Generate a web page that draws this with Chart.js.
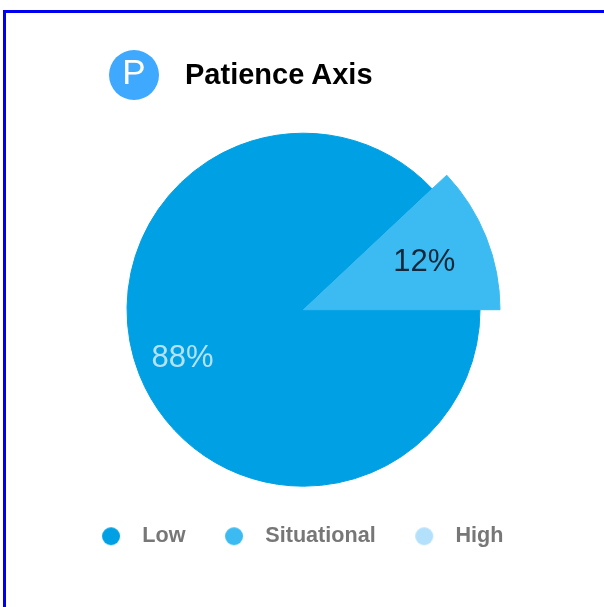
<!DOCTYPE html>
<html>
<head>
<meta charset="utf-8">
<script src="https://cdn.jsdelivr.net/npm/chart.js@4"></script>
<style>
html,body{margin:0;padding:0;background:#fff;overflow:hidden;}
#wrap{position:absolute;left:0;top:0;width:604px;height:607px;overflow:hidden;}
#frame{position:absolute;left:3px;top:10px;width:640px;height:640px;border:3px solid #0000f0;box-sizing:border-box;}
#icon{position:absolute;left:109px;top:50px;width:50px;height:50px;border-radius:50%;background:#3fa9ff;color:#fff;font:35px/44px "Liberation Sans",Arial,sans-serif;text-align:center;filter:blur(0.4px);}
#title{position:absolute;left:185px;top:58px;font:bold 29px/32px "Liberation Sans",Arial,sans-serif;color:#000;white-space:nowrap;filter:blur(0.4px);}
canvas{position:absolute;left:0;top:0;filter:blur(0.4px);}
</style>
</head>
<body>
<div id="wrap">
<div id="frame"></div>
<div id="icon">P</div>
<div id="title">Patience Axis</div>
<canvas id="c" width="604" height="607"></canvas>
</div>
<script>
const categories = ["Low", "Situational", "High"];
const shareValues = [88, 12, 0];
const sliceColors = ["#00a0e4", "#3bbbf1", "#b3e1fb"];
const labelColors = ["#b5e2f8", "#13283a", "#13283a"];
const sliceRadii = [176.5, 196.5, 176.5];
const legendShift = -6.5;

function dot(color) {
  const s = document.createElement("canvas");
  s.width = 20; s.height = 20;
  const g = s.getContext("2d");
  g.fillStyle = color;
  g.beginPath(); g.arc(10, 10, 9, 0, Math.PI * 2); g.fill();
  return s;
}

const sliceStyle = {
  id: "sliceStyle",
  afterLayout(chart) {
    chart.legend.left += legendShift;
    chart.legend.right += legendShift;
  },
  beforeDatasetsDraw(chart) {
    chart.getDatasetMeta(0).data.forEach((arc, i) => { arc.outerRadius = sliceRadii[i]; });
  },
  afterDatasetsDraw(chart) {
    const ctx = chart.ctx;
    ctx.save();
    ctx.font = '31px "Liberation Sans", Arial, sans-serif';
    ctx.textAlign = "center";
    ctx.textBaseline = "middle";
    chart.getDatasetMeta(0).data.forEach((arc, i) => {
      if (!shareValues[i]) return;
      const mid = (arc.startAngle + arc.endAngle) / 2;
      ctx.fillStyle = labelColors[i];
      ctx.fillText(shareValues[i] + "%", arc.x + Math.cos(mid) * 130, arc.y + Math.sin(mid) * 130 + 1);
    });
    ctx.restore();
  }
};

new Chart(document.getElementById("c"), {
  type: "pie",
  data: {
    labels: categories,
    datasets: [{ data: shareValues, backgroundColor: sliceColors, borderColor: sliceColors, borderWidth: 1, radius: 177 }]
  },
  options: {
    responsive: false,
    animation: false,
    rotation: 90,
    layout: { padding: { left: 3, right: 0, top: 122, bottom: 50 } },
    plugins: {
      tooltip: { enabled: false },
      title: { display: false },
      legend: {
        position: "bottom",
        labels: {
          usePointStyle: true,
          pointStyleWidth: 41,
          padding: 28,
          color: "#777777",
          font: { family: '"Liberation Sans", Arial, sans-serif', size: 21.6, weight: "bold" },
          generateLabels(chart) {
            return Chart.overrides.pie.plugins.legend.labels.generateLabels(chart).map((item, i) => {
              item.hidden = false;
              item.pointStyle = dot(sliceColors[i]);
              return item;
            });
          }
        }
      }
    }
  },
  plugins: [sliceStyle]
});
</script>
</body>
</html>
